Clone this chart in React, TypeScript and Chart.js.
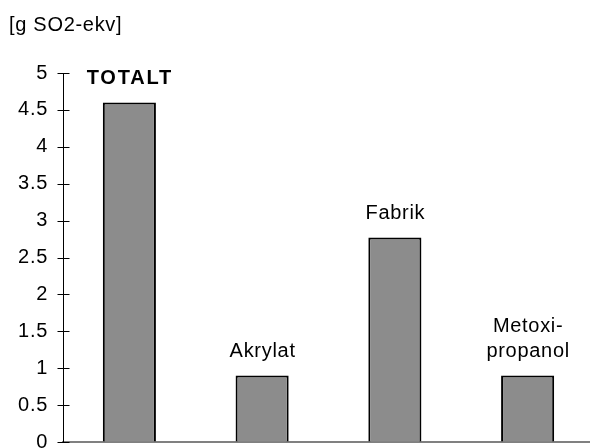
import React, { useEffect, useRef } from "react";
import { Chart, registerables } from "chart.js";

Chart.register(...registerables);

// ---- data ----
const categories = ["TOTALT", "Akrylat", "Fabrik", "Metoxipropanol"];
const barLabels: string[][] = [["TOTALT"], ["Akrylat"], ["Fabrik"], ["Metoxi-", "propanol"]];
const boldLabel = [true, false, false, false];
const values = [4.6, 0.9, 2.77, 0.9];
const yMin = 0;
const yMax = 5;
const yStep = 0.5;
const unitLabel = "[g SO2-ekv]";

const FONT = "'Liberation Sans', Arial, sans-serif";
const FONT_SIZE = 20;
const LS = "0.7px";
const LS_BOLD = "1.8px";

const decor = {
  id: "decor",
  beforeDraw(chart: any) {
    chart.ctx.letterSpacing = LS;
  },
  afterDraw(chart: any) {
    const ctx = chart.ctx;
    const ys = chart.scales.y;
    ctx.save();
    ctx.letterSpacing = LS;
    // tick marks crossing the axis
    ctx.strokeStyle = "#000";
    ctx.lineWidth = 1;
    const x0 = Math.round(chart.chartArea.left) + 0.5;
    ys.ticks.forEach((t: any) => {
      const py = Math.round(ys.getPixelForValue(t.value)) + 0.5;
      ctx.beginPath();
      ctx.moveTo(x0 - 6, py);
      ctx.lineTo(x0 + 6, py);
      ctx.stroke();
    });
    // bar labels
    ctx.fillStyle = "#000";
    ctx.textAlign = "center";
    ctx.textBaseline = "alphabetic";
    const meta = chart.getDatasetMeta(0);
    meta.data.forEach((bar: any, i: number) => {
      const lines = barLabels[i];
      ctx.font = `${boldLabel[i] ? "bold " : ""}${FONT_SIZE}px ${FONT}`;
      ctx.letterSpacing = boldLabel[i] ? LS_BOLD : LS;
      lines.forEach((ln, j) => {
        ctx.fillText(ln, bar.x + 0.5, bar.y - 19 - (lines.length - 1 - j) * 25);
      });
    });
    // unit label
    ctx.letterSpacing = LS;
    ctx.textAlign = "left";
    ctx.font = `${FONT_SIZE}px ${FONT}`;
    ctx.fillText(unitLabel, 9, 31);
    ctx.restore();
  },
};

export default function App() {
  const ref = useRef<HTMLCanvasElement | null>(null);
  useEffect(() => {
    if (!ref.current) return;
    const chart = new Chart(ref.current, {
      type: "bar",
      data: {
        labels: categories,
        datasets: [
          {
            data: values,
            backgroundColor: "#8c8c8c",
            borderColor: "#000",
            borderWidth: 2,
            barPercentage: 0.4,
            categoryPercentage: 1,
          },
        ],
      },
      options: {
        responsive: false,
        animation: false,
        devicePixelRatio: 1,
        layout: { padding: { left: 0, top: 73, right: 6, bottom: 6 } },
        plugins: {
          legend: { display: false },
          tooltip: { enabled: false },
          title: { display: false },
        },
        scales: {
          x: {
            type: "category",
            offset: true,
            grid: { display: true, drawOnChartArea: false, drawTicks: false },
            border: { display: true, color: "#808080", width: 2 },
            ticks: { display: false },
            afterFit: (s: any) => {
              s.height = 0;
              s.paddingLeft = 0;
              s.paddingRight = 0;
            },
          },
          y: {
            min: yMin,
            max: yMax,
            ticks: {
              stepSize: yStep,
              padding: 15,
              color: "#000",
              font: { family: FONT, size: FONT_SIZE },
              callback: (v: any) => String(v),
            },
            grid: { display: true, drawOnChartArea: false, drawTicks: false },
            border: { display: true, color: "#000", width: 1 },
            afterFit: (s: any) => {
              s.width = 63;
              s.paddingTop = 0;
              s.paddingBottom = 0;
            },
          },
        },
      } as any,
      plugins: [decor],
    });
    return () => chart.destroy();
  }, []);
  return (
    <div
      style={{
        position: "fixed",
        left: 0,
        top: 0,
        width: 590,
        height: 448,
        overflow: "hidden",
        background: "#fff",
      }}
    >
      <canvas ref={ref} width={600} height={448} style={{ display: "block" }} />
    </div>
  );
}
